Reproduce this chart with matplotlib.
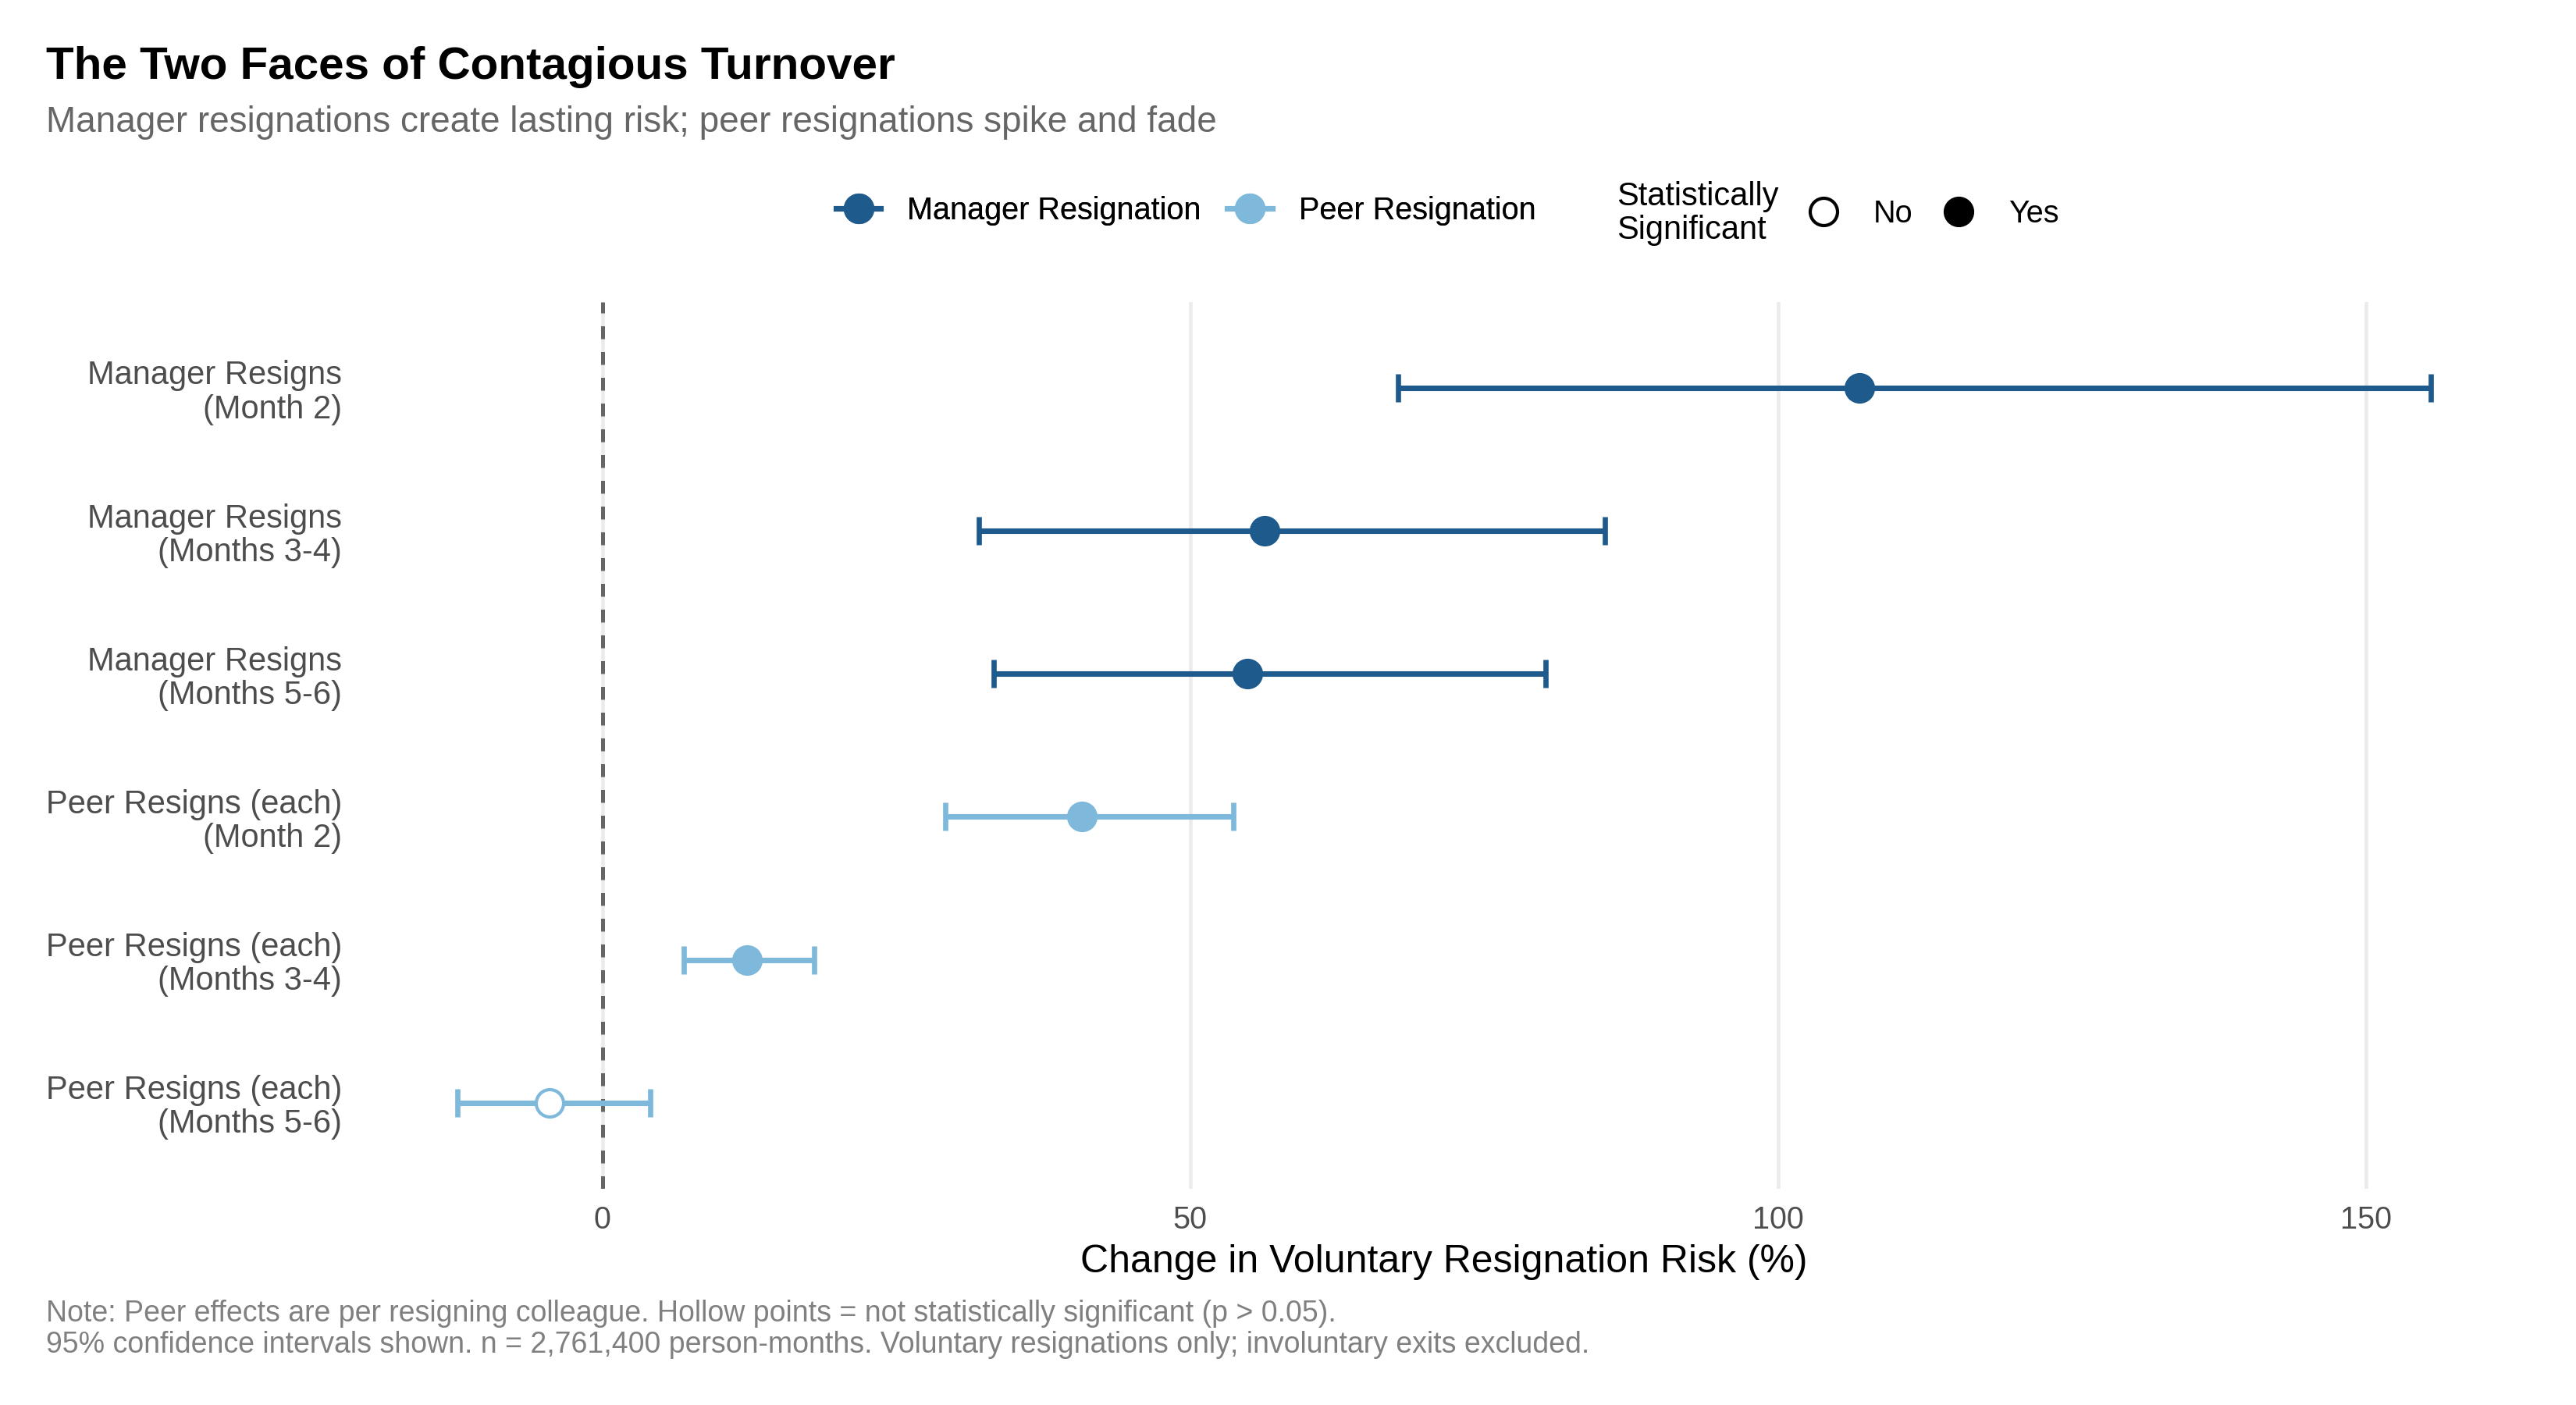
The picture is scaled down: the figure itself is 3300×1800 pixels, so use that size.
import matplotlib
matplotlib.use("Agg")
import matplotlib.pyplot as plt
from matplotlib.lines import Line2D
import numpy as np

plt.rcParams['font.family'] = ['Liberation Sans', 'DejaVu Sans']

labels = [
    "Manager Resigns\n(Month 2)",
    "Manager Resigns\n(Months 3-4)",
    "Manager Resigns\n(Months 5-6)",
    "Peer Resigns (each)\n(Month 2)",
    "Peer Resigns (each)\n(Months 3-4)",
    "Peer Resigns (each)\n(Months 5-6)",
]
estimate = [106.9, 56.3, 54.9, 40.8, 12.3, -4.5]
ci_low = [67.7, 32.0, 33.3, 29.2, 6.9, -12.3]
ci_high = [155.5, 85.3, 80.2, 53.7, 18.0, 4.1]
group = ["Manager", "Manager", "Manager", "Peer", "Peer", "Peer"]
significant = [True, True, True, True, True, False]
xticks = [0, 50, 100, 150]

colors = {"Manager": "#1F5A8D", "Peer": "#7EB8DA"}

fig = plt.figure(figsize=(11, 6), dpi=300)
ax = fig.add_axes([0.1394, 0.154, 0.8424, 0.631])

ypos = np.arange(len(labels))[::-1]  # top row first

ax.axvline(0, color="#666666", lw=1.2, ls=(0, (3.3, 3.3)), zorder=1)

MS = 8.4
for y, est, lo, hi, g, sig in zip(ypos, estimate, ci_low, ci_high, group, significant):
    c = colors[g]
    ax.errorbar([est], [y], xerr=[[est - lo], [hi - est]], fmt="none",
                ecolor=c, elinewidth=1.7, capsize=4.4, capthick=1.6, zorder=2)
    ax.plot([est], [y], marker="o", ms=MS, ls="none",
            mfc=c if sig else "white", mec=c, mew=1.0, zorder=3)

lo_all, hi_all = min(ci_low), max(ci_high)
pad = 0.05 * (hi_all - lo_all)
ax.set_xlim(lo_all - pad, hi_all + pad)
ax.set_ylim(-0.6, len(labels) - 0.4)
ax.set_xticks(xticks)
ax.set_xticklabels([str(t) for t in xticks])
ax.set_yticks(ypos)
ax.set_yticklabels(labels, linespacing=1.1)
ax.tick_params(axis="both", length=0, labelsize=9.5, labelcolor="#4D4D4D")
ax.tick_params(axis="x", pad=5)
ax.tick_params(axis="y", pad=5.3)
for lab in ax.get_yticklabels():
    lab.set_fontsize(10)
ax.grid(axis="x", color="#EBEBEB", lw=1.1, zorder=0)
ax.set_axisbelow(True)
for s in ax.spines.values():
    s.set_visible(False)
ax.set_xlabel("Change in Voluntary Resignation Risk (%)", fontsize=12, color="black", labelpad=3)

fig.text(0.018, 0.944, "The Two Faces of Contagious Turnover", fontsize=14,
         fontweight="bold", ha="left", va="baseline")
fig.text(0.018, 0.906, "Manager resignations create lasting risk; peer resignations spike and fade",
         fontsize=11, color="#666666", ha="left", va="baseline")

h1 = [Line2D([0], [0], color=colors["Manager"], lw=1.7, marker="o", ms=MS),
      Line2D([0], [0], color=colors["Peer"], lw=1.7, marker="o", ms=MS)]
leg1 = fig.legend(h1, ["Manager Resignation", "Peer Resignation"], ncol=2,
                  loc="center left", bbox_to_anchor=(0.3245, 0.850), frameon=False,
                  fontsize=9.5, handlelength=1.45, handletextpad=0.86, columnspacing=0.85,
                  borderaxespad=0, borderpad=0)
fig.add_artist(leg1)

fig.text(0.6276, 0.848, "Statistically\nSignificant", fontsize=10, ha="left", va="center",
         linespacing=1.1)
h2 = [Line2D([0], [0], ls="none", marker="o", ms=MS, mfc="white", mec="black", mew=1.0),
      Line2D([0], [0], ls="none", marker="o", ms=MS, mfc="black", mec="black", mew=1.0)]
fig.legend(h2, ["No", "Yes"], ncol=2, loc="center left", bbox_to_anchor=(0.697, 0.848),
           frameon=False, fontsize=9.5, handlelength=1.82, handletextpad=0.71,
           columnspacing=0.56, borderaxespad=0, borderpad=0)

fig.text(0.018, 1 - 1693 / 1800,
         "Note: Peer effects are per resigning colleague. Hollow points = not statistically significant (p > 0.05).",
         fontsize=9, color="#808080", ha="left", va="baseline")
fig.text(0.018, 1 - 1733 / 1800,
         "95% confidence intervals shown. n = 2,761,400 person-months. Voluntary resignations only; involuntary exits excluded.",
         fontsize=9, color="#808080", ha="left", va="baseline")

fig.savefig("out.png", dpi=300)
